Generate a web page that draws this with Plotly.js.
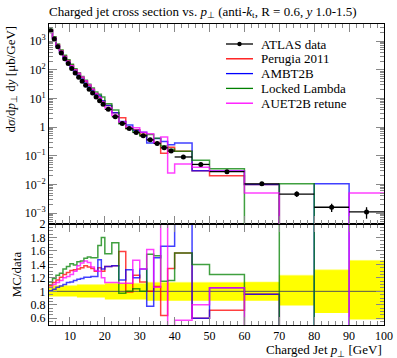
<!DOCTYPE html>
<html><head><meta charset="utf-8">
<script src="https://cdn.plot.ly/plotly-3.0.1.min.js"></script>
<style>body{margin:0;padding:0;background:#fff}#chart{width:397px;height:358px}</style>
</head><body><div id="chart"></div>
<script>
// bin edges (GeV)
const binEdges = [4,5,6,7,8,9,10,11,12,13,14,15,16,17,18,19,20,22,24,26,28,30,32,34,36,38,40,45,50,60,70,80,90,100];
// ATLAS data dσ/dp⊥dy [μb/GeV]
const atlasData = [2300,1200,640,390,245,165,112,78,55,40,29,21,15.5,11.3,8.4,6.3,4.2,2.3,1.35,0.9,0.65,0.5,0.36,0.27,0.19,0.147,0.091,0.05,0.028,0.0105,0.0046,0.0016,0.0011];
// relative data uncertainty (up / down)
const errUp   = [0.085,0.085,0.085,0.085,0.085,0.085,0.085,0.085,0.10,0.10,0.10,0.10,0.10,0.10,0.10,0.10,0.12,0.12,0.12,0.12,0.12,0.12,0.135,0.135,0.135,0.135,0.135,0.135,0.135,0.14,0.24,0.32,0.46];
const errDown = [0.075,0.075,0.075,0.075,0.075,0.075,0.075,0.075,0.09,0.09,0.09,0.09,0.09,0.09,0.09,0.09,0.12,0.12,0.12,0.12,0.12,0.12,0.14,0.14,0.14,0.14,0.14,0.14,0.14,0.14,0.21,0.32,0.42];
// MC / data ratios per bin
const perugiaRatio = [1.09,1.13,1.17,1.21,1.25,1.28,1.31,1.32,1.33,1.35,1.38,1.36,1.34,1.30,1.35,1.30,1.37,1.38,1.59,0.99,1.24,1.14,1.00,1.07,0.64,1.34,1.57,0.60,0.72,0.955,0,0,0];
const ambt2bRatio  = [1.01,1.03,1.06,1.08,1.10,1.13,1.14,1.16,1.18,1.19,1.21,1.21,1.22,1.22,1.47,1.33,1.37,1.38,1.17,1.32,1.20,1.33,0.78,1.50,1.67,1.67,3.1,0.60,1.055,0.955,0,6.6,0];
const lockedRatio  = [1.14,1.19,1.24,1.27,1.33,1.37,1.41,1.39,1.44,1.45,1.49,1.51,1.50,1.50,1.68,1.80,1.56,1.72,0.97,1.00,1.04,1.00,1.55,1.53,1.15,1.16,1.57,1.40,1.25,0,2.28,0,0];
const auet2bRatio  = [1.06,1.10,1.13,1.16,1.20,1.22,1.25,1.30,1.38,1.42,1.45,1.43,1.36,1.31,1.30,1.20,1.13,1.13,1.12,1.12,1.46,1.33,1.62,1.06,2.4,0.17,0.57,0.80,1.055,0.48,0,0,4.6];

const mcNames  = ['Perugia 2011','AMBT2B','Locked Lambda','AUET2B retune'];
const mcColors = ['#ff0000','#0000ff','#008000','#ff00ff'];
const mcRatios = [perugiaRatio, ambt2bRatio, lockedRatio, auet2bRatio];

const yTickVals = [1e-3,1e-2,1e-1,1,10,100,1000];
const yTickText = ['10<sup>−3</sup>','10<sup>−2</sup>','10<sup>−1</sup>','1','10<sup>1</sup>','10<sup>2</sup>','10<sup>3</sup>'];
const rTickVals = [0.6,0.8,1,1.2,1.4,1.6,1.8,2];

const centers = atlasData.map((_, i) => (binEdges[i] + binEdges[i+1]) / 2);
const halfW = atlasData.map((_, i) => (binEdges[i+1] - binEdges[i]) / 2);
const stepY = arr => arr.concat([arr[arr.length-1]]);
const FLOOR = 1e-12;

const FONT = 'Liberation Serif, Times New Roman, serif';
const traces = [];

// yellow uncertainty band in ratio
traces.push({x: binEdges, y: stepY(errDown.map(e => 1 - e)), xaxis:'x', yaxis:'y2', mode:'lines',
  line:{shape:'hv', width:0, color:'rgba(255,255,0,0)'}, hoverinfo:'skip', showlegend:false});
traces.push({x: binEdges, y: stepY(errUp.map(e => 1 + e)), xaxis:'x', yaxis:'y2', mode:'lines',
  line:{shape:'hv', width:0.6, color:'rgba(255,255,120,1)'}, fill:'tonexty', fillcolor:'#ffff00', hoverinfo:'skip', showlegend:false});
traces.push({x:[binEdges[0], binEdges[binEdges.length-1]], y:[1,1], xaxis:'x', yaxis:'y2', mode:'lines',
  line:{color:'#555', width:1}, showlegend:false, hoverinfo:'skip'});

mcRatios.forEach((r, k) => {
  const mc = r.map((v, i) => v * atlasData[i]);
  traces.push({x: binEdges, y: stepY(mc.map(v => v > 0 ? v : FLOOR)), xaxis:'x2', yaxis:'y', mode:'lines', name: mcNames[k],
    line:{shape:'hv', color: mcColors[k], width:1.5}, opacity:0.75, showlegend:false});
  traces.push({x: binEdges, y: stepY(r), xaxis:'x', yaxis:'y2', mode:'lines', name: mcNames[k],
    line:{shape:'hv', color: mcColors[k], width:1.5}, opacity:0.75, showlegend:false});
});

traces.push({x: centers, y: atlasData, xaxis:'x2', yaxis:'y', mode:'markers', name:'ATLAS data',
  marker:{color:'#000', size:5},
  error_x:{type:'data', array: halfW, color:'#000', thickness:1.3, width:0},
  error_y:{type:'data', symmetric:false, array: atlasData.map((v,i)=>v*errUp[i]), arrayminus: atlasData.map((v,i)=>v*errDown[i]), color:'#000', thickness:1.3, width:0},
  showlegend:false});

// legend drawn manually (compact Rivet-style spacing)
const legNames = ['ATLAS data'].concat(mcNames);
const legColors = ['#000'].concat(mcColors);
const shapes = [], annotations = [];
const plotL = 49, plotW = 335, plotT = 24, plotH = 301;
const px2x = p => (p - plotL) / plotW;
const py2y = p => 1 - (p - plotT) / plotH;
legNames.forEach((n, i) => {
  const yy = 44 + i * 14.8;
  shapes.push({type:'line', xref:'paper', yref:'paper', x0: px2x(226), x1: px2x(253), y0: py2y(yy), y1: py2y(yy), line:{color: legColors[i], width:1.3}});
  annotations.push({xref:'paper', yref:'paper', x: px2x(259), y: py2y(yy), xanchor:'left', yanchor:'middle', text: n, showarrow:false, font:{family:FONT, size:13, color:'#000'}});
});
shapes.push({type:'circle', xref:'paper', yref:'paper', x0: px2x(237.3), x1: px2x(241.7), y0: py2y(41.8), y1: py2y(46.2), fillcolor:'#000', line:{color:'#000', width:0}});

annotations.push({xref:'paper', yref:'paper', x:1, y: py2y(350), xanchor:'right', yanchor:'middle', showarrow:false,
  text:'Charged Jet <i>p</i><sub>⊥</sub> [GeV]', font:{family:FONT, size:13, color:'#000'}});
annotations.push({xref:'paper', yref:'paper', x: px2x(11), y: 1, xanchor:'center', yanchor:'top', textangle:-90, showarrow:false,
  text:'d<i>σ</i>/d<i>p</i><sub>⊥</sub> d<i>y</i> [μb/GeV]', font:{family:FONT, size:13, color:'#000'}});

const axisCommon = {showline:true, linecolor:'#000', linewidth:1, ticks:'inside', tickcolor:'#888', zeroline:false, showgrid:false,
  tickfont:{family:FONT, size:12, color:'#000'}};
const split = 101/301;
const layout = {
  width:397, height:358, margin:{l:49, r:13, t:24, b:33}, paper_bgcolor:'#fff', plot_bgcolor:'#fff', showlegend:false,
  font:{family:FONT, size:12, color:'#000'},
  title:{text:'Charged jet cross section vs. <i>p</i><sub>⊥</sub> (anti-<i>k</i><sub>t</sub>, R = 0.6, <i>y</i> 1.0-1.5)',
    x: 49/397, xanchor:'left', xref:'container', y: 1 - 11/358, yanchor:'middle', yref:'container', font:{family:FONT, size:13, color:'#000'}},
  xaxis: Object.assign({}, axisCommon, {anchor:'y2', domain:[0,1], range:[4,100], tick0:0, dtick:10, ticklen:8, mirror:'allticks',
    minor:{dtick:2, ticklen:4, ticks:'inside', tickcolor:'#888'}}),
  xaxis2: Object.assign({}, axisCommon, {anchor:'y', matches:'x', range:[4,100], tick0:0, dtick:10, ticklen:8, mirror:'allticks', showticklabels:false,
    minor:{dtick:2, ticklen:4, ticks:'inside', tickcolor:'#888'}}),
  yaxis: Object.assign({}, axisCommon, {anchor:'x2', domain:[split,1], type:'log', range:[-3.38,3.60], tickvals:yTickVals, ticktext:yTickText,
    ticklen:8, mirror:'allticks', minor:{dtick:'D1', ticklen:4, ticks:'inside', tickcolor:'#888'}}),
  yaxis2: Object.assign({}, axisCommon, {anchor:'x', domain:[0,split], range:[0.5,2], tickvals:rTickVals, ticklen:8, mirror:'allticks',
    minor:{dtick:0.05, tick0:0, ticklen:4, ticks:'inside', tickcolor:'#888'},
    title:{text:'MC/data', font:{family:FONT, size:13, color:'#000'}, standoff:6}}),
  shapes: shapes, annotations: annotations
};
Plotly.newPlot('chart', traces, layout, {displayModeBar:false, staticPlot:true});
</script>
</body></html>
